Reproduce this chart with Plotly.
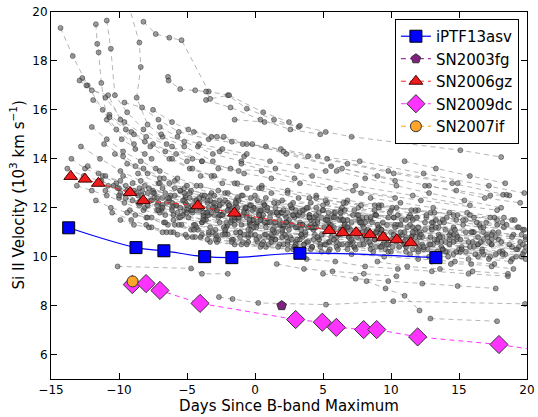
import plotly.graph_objects as go

# ---------------- data ----------------
IPTF_X = [-13.7, -8.75, -6.7, -3.7, -1.7, 3.3, 13.3]
IPTF_Y = [11.18, 10.37, 10.24, 10.0, 9.96, 10.14, 9.96]

SN2003FG_X = [1.96]
SN2003FG_Y = [8.0]

SN2006GZ_X = [-13.55, -12.5, -11.52, -9.19, -8.21, -4.21, -1.52, 5.46, 6.45, 7.43, 8.46, 9.43, 10.42, 11.45]
SN2006GZ_Y = [13.28, 13.17, 13.0, 12.62, 12.29, 12.08, 11.78, 11.07, 10.98, 10.98, 10.9, 10.79, 10.69, 10.57]

SN2009DC_X = [-9.02, -8.01, -6.99, -4.04, 2.99, 4.95, 5.98, 7.99, 8.95, 11.96, 17.94]
SN2009DC_Y = [8.86, 8.9, 8.62, 8.09, 7.43, 7.32, 7.11, 7.02, 7.02, 6.72, 6.41]
SN2009DC_EXT_X = [17.94, 20.0]
SN2009DC_EXT_Y = [6.41, 6.24]

SN2007IF_X = [-9.0]
SN2007IF_Y = [8.99]

# comparison sample (grey)
BG_X = [
    [-14.3, -13.4, -12.3, -11.2, -10.2, -8.9],
    [-11.7, -11.6, -11.5, -11.3, -10.9, -9.8, -8.1],
    [-10.9, -10.6, -10.3, -9.4, -8.2, -6.5, -4.6],
    [-9.3, -8.5, -8.4, -8.7, -7.9, -6.8, -5.2, -3.1],
    [-8.2, -7.3, -6.3, -5.4, -3.4, -2.0, -0.6, 1.4, 3.2],
    [-6.4, -6.35, -5.5, -4.4, -3.6, -3.3, -1.9, 0.6, 2.5],
    [-12.7, -12.4, -11.0, -9.6, -8.0, -6.1, -3.9, -1.2],
    [-12.9, -12.0, -10.8, -9.9, -8.8, -7.6],
    [-1.5, 0.7, 3.3, 5.2, 7.1, 15.1, 18.1],
    [-7.5, -6.1, -4.9, -2.8, -0.6, 1.9, 4.6, 7.7, 12.4, 17.2, 19.8],
    [-9.6, -8.3, -7.1, -5.6, -3.4, -0.9, 2.1, 6.4, 10.3],
    [-4.5, -3.2, -1.7, 0.8, 3.9, 6.8, 10.2, 14.5, 18.7],
    [-11.9, -10.7, -9.1, -7.5, -5.8, -3.9, -1.8, 0.5],
    [-2.3, -0.2, 2.3, 5.6, 9.0, 12.8, 16.9, 19.5],
    [-6.9, -5.2, -3.1, -1.0, 1.5, 4.2, 7.4, 11.6, 15.8],
    [-3.6, -1.8, 0.4, 2.6, 4.8],
    [-13.5, -12.5, -11.2, -9.9],
    [-11.5, -10.2, -8.9, -7.4, -5.8, -4.1, -2.3, -0.4, 1.8, 4.1, 6.5, 9.2],
    [-10.8, -9.3, -7.7, -6.1, -4.6, -3.0, -1.2, 0.9, 3.2, 5.7, 8.3, 11.1, 14.0],
    [-9.7, -8.1, -6.6, -5.1, -3.5, -1.9, 0.2, 2.4, 4.9, 7.6, 10.5, 13.5, 16.8, 19.6],
    [-8.6, -7.2, -5.6, -3.9, -2.1, -0.3, 1.6, 3.7, 6.0, 8.8, 11.9],
    [-12.3, -11.0, -9.5, -7.9, -6.3, -4.6, -2.8, -0.9, 1.1, 3.3, 5.6],
    [-7.8, -6.2, -4.4, -2.6, -0.7, 1.3, 3.5, 5.9, 8.5, 11.4, 14.6, 17.9],
    [-6.9, -5.3, -3.7, -2.0, -0.1, 2.0, 4.4, 6.9, 9.7, 12.8, 16.1, 19.3],
    [-10.3, -8.8, -7.0, -5.2, -3.3, -1.4, 0.7, 3.0, 5.4, 7.9],
    [-5.9, -4.3, -2.7, -1.0, 0.8, 2.8, 5.0, 7.3, 9.9, 12.6, 15.5, 18.5],
    [-9.2, -7.6, -5.9, -4.2, -2.4, -0.5, 1.5, 3.8, 6.2, 8.9],
    [-4.8, -3.1, -1.5, 0.3, 2.2, 4.3, 6.6, 9.1, 11.8, 14.8, 17.7],
    [-11.1, -9.7, -8.2, -6.7, -5.0, -3.2, -1.3, 0.6, 2.7, 5.0, 7.5, 10.2, 13.1],
    [-3.8, -2.1, -0.4, 1.4, 3.4, 5.6, 8.0, 10.6, 13.4, 16.4, 19.4],
    [-7.3, -5.7, -4.0, -2.2, -0.3, 1.7, 3.9, 6.3, 8.8, 11.5],
    [-1.9, -0.1, 1.9, 4.0, 6.2, 8.6, 11.2, 14.0, 17.0, 19.9],
    [-8.3, -6.8, -5.1, -3.4, -1.6, 0.3, 2.3, 4.6, 7.1, 9.7, 12.5, 15.5],
    [-10.0, -8.5, -6.9, -5.3, -3.6, -1.8, 0.1, 2.1, 4.3],
    [0.5, 2.4, 4.5, 6.8, 9.3, 12.0, 14.9, 17.8],
    [-6.0, -4.5, -2.9, -1.1, 0.7, 2.6, 4.7, 7.0, 9.4, 12.1, 15.0, 18.0],
    [-12.8, -11.4, -9.9, -8.4, -6.8, -5.1, -3.3, -1.4],
    [2.5, 4.4, 6.5, 8.7, 11.1, 13.7, 16.4, 19.2],
    [-9.0, -7.5, -5.9, -4.3, -2.6, -0.8, 1.1, 3.1, 5.3, 7.7, 10.3, 13.0, 16.0, 19.0],
    [-4.0, -2.4, -0.6, 1.2, 3.2, 5.3, 7.6, 10.0, 12.6, 15.3, 18.2],
    [-7.0, -5.5, -3.9, -2.3, -0.5, 1.4, 3.4, 5.6, 7.9, 10.4, 13.1],
    [1.0, 3.0, 5.1, 7.3, 9.6, 12.0, 14.6, 17.3, 19.9],
    [-2.8, -1.0, 0.8, 2.8, 4.9, 7.1, 9.5, 12.0, 14.7, 17.6],
    [3.8, 5.9, 8.1, 10.5, 13.0, 15.7, 18.6],
    [5.0, 7.4, 9.8, 12.3, 14.9, 17.7],
    [-2.65, -1.65, 0.24, 5.22, 10.17, 19.85],
    [-10.1, -4.7, -3.9, -2.0],
    [12.9, 17.8],
    [8.2, 9.6, 11.0, 12.1],
    [-13.8, -12.6, -11.4, -10.1, -8.7],
    [-13.1, -12.0, -10.9, -9.6, -8.2, -6.6],
    [-11.7, -10.6, -9.4, -8.0, -6.4, -4.7, -2.9],
    [-10.5, -9.1, -7.6, -6.0, -4.4, -2.7, -0.9, 1.0, 3.0],
    [-8.0, -6.5, -5.0, -3.3, -1.5, 0.4, 2.4],
    [6.0, 8.1, 10.4, 12.8, 15.4, 18.1],
    [8.5, 10.7, 13.1, 15.6, 18.3],
    [10.0, 12.3, 14.8, 17.4, 19.9],
    [-5.5, -3.9, -2.2, -0.4, 1.5, 3.6, 5.8, 8.2, 10.8, 13.6, 16.6, 19.7],
    [-3.0, -1.3, 0.5, 2.5, 4.6, 6.9, 9.3, 11.9, 14.6],
    [-12.0, -10.9, -9.7, -8.4, -7.0],
    [-8.9, -7.7, -6.3, -4.8, -3.2, -1.5, 0.3],
    [-6.1, -4.6, -3.0, -1.3, 0.5, 2.4, 4.5, 6.7, 9.1],
    [-1.0, 2.9, 7.2, 12.2, 17.8],
    [11.0, 13.3, 15.8, 18.4],
    [12.5, 14.8, 17.3, 18.24, 18.5],
    [-7.6, -6.0, -4.3, -2.5, -0.6, 1.4, 3.5, 5.8, 8.3, 11.0, 13.8, 16.8],
    [-2.2, -0.5, 1.3, 3.3, 5.4, 7.7, 10.1, 12.7, 15.5, 18.4],
    [-9.9, -8.4, -6.8, -5.2, -3.5, -1.7, 0.2, 2.2, 4.3, 6.6],
    [-5.0, -3.4, -1.7, 0.1, 2.0, 4.1, 6.4, 8.9, 11.6, 14.4, 17.4],
    [-8.6, -7.1, -5.5, -3.8, -2.0, -0.1, 1.9, 4.0, 6.3],
    [-6.5, -4.9, -3.2, -1.4, 0.4, 2.3, 4.4, 6.6, 9.0, 11.6, 14.3, 17.1, 19.9],
    [0.0, 2.0, 4.1, 6.4, 8.8, 11.4, 14.1, 17.0],
    [4.5, 6.6, 8.9, 11.3, 13.8, 16.5, 19.3],
    [7.0, 9.2, 11.6, 14.1, 16.8, 19.6],
    [-11.3, -10.0, -8.6, -7.1, -5.5, -3.8],
    [-9.4, -7.9, -6.3, -4.7, -3.0, -1.2, 0.7, 2.7],
    [14.0, 16.4, 18.9],
    [9.0, 11.2, 13.6, 16.0, 18.6],
    [1.6, 3.6, 5.7, 8.0, 10.4],
    [-3.4, -1.6, 0.2, 2.1, 4.2],
    [-4.2, -2.6, -0.8, 1.1, 3.1, 5.2],
    [-7.0, -5.7, -4.1, -2.4, -0.6],
    [-2.7, -0.8, 1.2, 3.3, 5.5, 7.8, 10.3],
    [-10.7, -9.5, -8.1, -6.6, -5.0],
    [5.3, 9.8, 14.9],
    # dense core
    [-9.5, -8.4, -7.2, -6.1, -5.0, -3.8, -2.7, -1.5, -0.4, 0.8, 1.9, 3.1],
    [-8.8, -7.9, -6.7, -5.4, -4.3, -3.1, -2.0, -0.8, 0.3, 1.5, 2.7, 3.9, 5.2, 6.4],
    [-7.4, -6.3, -5.2, -4.1, -2.9, -1.8, -0.6, 0.6, 1.7, 2.9, 4.1, 5.4, 6.6, 7.9, 9.1],
    [-6.6, -5.6, -4.5, -3.4, -2.2, -1.1, 0.1, 1.2, 2.4, 3.6, 4.8, 6.0, 7.3, 8.5, 9.8, 11.1],
    [-5.8, -4.7, -3.6, -2.5, -1.3, -0.2, 0.9, 2.1, 3.3, 4.5, 5.7, 7.0, 8.2, 9.5, 10.8, 12.1, 13.4],
    [-4.4, -3.3, -2.2, -1.1, 0.0, 1.2, 2.3, 3.5, 4.7, 6.0, 7.2, 8.5, 9.8, 11.1, 12.4, 13.8, 15.1],
    [-3.5, -2.4, -1.3, -0.2, 0.9, 2.0, 3.2, 4.4, 5.6, 6.8, 8.1, 9.4, 10.7, 12.0, 13.3, 14.7, 16.1, 17.5],
    [-2.6, -1.5, -0.4, 0.7, 1.8, 3.0, 4.2, 5.4, 6.6, 7.9, 9.2, 10.5, 11.8, 13.2, 14.6, 16.0, 17.4, 18.9],
    [-1.4, -0.3, 0.8, 2.0, 3.1, 4.3, 5.5, 6.8, 8.0, 9.3, 10.6, 12.0, 13.4, 14.8, 16.2, 17.7, 19.2],
    [-0.6, 0.5, 1.6, 2.8, 4.0, 5.2, 6.4, 7.7, 9.0, 10.3, 11.6, 13.0, 14.4, 15.9, 17.4, 18.9],
    [0.4, 1.5, 2.7, 3.9, 5.1, 6.3, 7.6, 8.9, 10.2, 11.5, 12.9, 14.3, 15.7, 17.2, 18.7],
    [1.2, 2.4, 3.6, 4.8, 6.1, 7.4, 8.7, 10.0, 11.4, 12.8, 14.2, 15.7, 17.2, 18.8],
    [-10.4, -9.4, -8.3, -7.2, -6.1, -5.0, -3.9, -2.8],
    [-9.9, -8.9, -7.8, -6.8, -5.7, -4.6, -3.5],
    [-8.1, -7.1, -6.0, -4.9, -3.8, -2.6, -1.5, -0.3, 0.8, 2.0],
    [-7.0, -5.9, -4.8, -3.7, -2.6, -1.4, -0.3, 0.9, 2.1, 3.3, 4.5, 5.8],
    [3.5, 4.7, 5.9, 7.2, 8.5, 9.8, 11.1, 12.5, 13.9, 15.3, 16.8, 18.3, 19.8],
    [5.5, 6.8, 8.0, 9.3, 10.7, 12.1, 13.5, 14.9, 16.4, 17.9, 19.5],
    [6.9, 8.2, 9.5, 10.9, 12.3, 13.7, 15.2, 16.7, 18.2, 19.8],
    [8.8, 10.1, 11.5, 12.9, 14.3, 15.8, 17.3, 18.9],
    [-5.2, -4.1, -3.0, -1.9, -0.7, 0.4, 1.6, 2.8, 4.0, 5.3, 6.5, 7.8],
    [-3.9, -2.8, -1.7, -0.5, 0.6, 1.8, 3.0, 4.2, 5.5, 6.8],
    [-2.0, -0.9, 0.2, 1.4, 2.6, 3.8, 5.0, 6.3, 7.6, 8.9, 10.2, 11.6, 13.0],
    [2.2, 3.4, 4.6, 5.8, 7.1, 8.4, 9.7, 11.0, 12.4, 13.8, 15.2, 16.7, 18.2, 19.7],
    [10.5, 11.9, 13.3, 14.8, 16.3, 17.8, 19.4],
    [12.2, 13.6, 15.1, 16.6, 18.1, 19.7],
    [-11.0, -10.0, -9.0, -7.9, -6.8, -5.7],
    [-6.2, -5.1, -4.0, -2.9, -1.7, -0.6, 0.5, 1.7, 2.9, 4.1, 5.4],
    [-1.0, 0.1, 1.3, 2.5, 3.7, 4.9, 6.2, 7.5, 8.8, 10.1, 11.5, 12.9, 14.3, 15.8],
    [4.0, 5.2, 6.5, 7.8, 9.1, 10.4, 11.8, 13.2, 14.6, 16.1, 17.6, 19.1],
    [-4.6, -3.5, -2.4, -1.2, -0.1, 1.1, 2.3, 3.5],
    [13.0, 14.4, 15.9, 17.4, 19.0],
    [-8.5, -7.5, -6.4, -5.3, -4.2, -3.1, -2.0, -0.8, 0.3],
]
BG_Y = [
    [19.35, 18.2, 17.0, 16.0, 15.2, 14.6],
    [19.5, 18.7, 18.35, 17.1, 15.6, 14.8, 14.2],
    [19.65, 18.5, 16.6, 15.9, 15.2, 14.6, 14.0],
    [20.3, 18.75, 17.75, 16.5, 15.4, 14.9, 14.5, 13.9],
    [19.6, 19.1, 18.95, 18.85, 16.75, 16.6, 16.05, 15.6, 15.3],
    [17.35, 17.2, 16.85, 16.8, 16.75, 16.45, 16.6, 15.9, 15.5],
    [17.3, 17.0, 16.5, 15.5, 14.9, 14.5, 13.9, 13.5],
    [17.2, 16.8, 16.6, 15.6, 14.4, 14.0],
    [15.6, 15.5, 15.35, 15.1, 14.9, 14.35, 14.07],
    [16.0, 15.5, 15.2, 14.9, 14.6, 14.4, 14.1, 13.9, 13.4, 12.9, 12.6],
    [16.3, 16.1, 15.6, 15.1, 14.8, 14.6, 14.3, 13.6, 13.1],
    [15.1, 14.9, 14.7, 14.5, 14.1, 13.8, 13.4, 13.0, 12.5],
    [16.4, 15.8, 15.1, 14.6, 14.2, 13.9, 13.6, 13.5],
    [14.9, 14.6, 14.2, 13.7, 13.3, 12.9, 12.4, 12.2],
    [15.0, 14.7, 14.2, 13.9, 13.6, 13.3, 12.9, 12.5, 12.1],
    [16.4, 16.1, 15.6, 15.2, 15.0],
    [14.0, 13.6, 13.3, 13.1],
    [13.4, 13.0, 12.7, 12.4, 12.1, 11.9, 11.8, 11.6, 11.5, 11.3, 11.2, 11.0],
    [12.9, 12.6, 12.3, 12.0, 11.8, 11.7, 11.5, 11.4, 11.2, 11.1, 10.9, 10.8, 10.6],
    [13.3, 12.9, 12.6, 12.4, 12.2, 12.0, 11.9, 11.8, 11.6, 11.5, 11.3, 11.2, 11.0, 10.9],
    [12.2, 11.9, 11.6, 11.4, 11.2, 11.1, 11.0, 10.9, 10.8, 10.7, 10.6],
    [13.7, 13.3, 12.9, 12.6, 12.3, 12.1, 11.9, 11.7, 11.6, 11.4, 11.3],
    [12.8, 12.5, 12.3, 12.1, 12.0, 11.8, 11.7, 11.6, 11.5, 11.3, 11.2, 11.0],
    [12.0, 11.7, 11.5, 11.3, 11.2, 11.0, 10.9, 10.8, 10.7, 10.5, 10.4, 10.3],
    [14.2, 13.7, 13.2, 12.8, 12.5, 12.3, 12.1, 11.9, 11.8, 11.6],
    [13.1, 12.9, 12.7, 12.5, 12.4, 12.2, 12.1, 11.9, 11.8, 11.6, 11.5, 11.3],
    [11.9, 11.6, 11.3, 11.1, 10.9, 10.8, 10.7, 10.6, 10.5, 10.4],
    [12.4, 12.2, 12.0, 11.8, 11.7, 11.5, 11.4, 11.2, 11.1, 10.9, 10.8],
    [14.6, 14.1, 13.6, 13.2, 12.9, 12.6, 12.4, 12.2, 12.0, 11.9, 11.7, 11.6, 11.4],
    [11.6, 11.4, 11.3, 11.2, 11.1, 11.0, 10.9, 10.8, 10.6, 10.5, 10.4],
    [13.6, 13.2, 12.9, 12.6, 12.4, 12.2, 12.0, 11.9, 11.7, 11.6],
    [12.1, 12.0, 11.8, 11.7, 11.5, 11.4, 11.2, 11.1, 10.9, 10.8],
    [12.7, 12.4, 12.2, 12.0, 11.8, 11.7, 11.6, 11.5, 11.4, 11.3, 11.1, 11.0],
    [12.4, 12.1, 11.9, 11.7, 11.5, 11.4, 11.3, 11.2, 11.1],
    [12.9, 12.7, 12.5, 12.3, 12.1, 11.9, 11.7, 11.5],
    [11.5, 11.3, 11.1, 11.0, 10.9, 10.8, 10.7, 10.6, 10.5, 10.4, 10.3, 10.2],
    [14.5, 14.0, 13.5, 13.1, 12.8, 12.5, 12.3, 12.1],
    [11.3, 11.2, 11.0, 10.9, 10.7, 10.6, 10.5, 10.3],
    [13.0, 12.7, 12.5, 12.3, 12.1, 11.9, 11.8, 11.7, 11.6, 11.5, 11.3, 11.2, 11.0, 10.9],
    [13.3, 13.0, 12.8, 12.6, 12.4, 12.2, 12.0, 11.9, 11.7, 11.5, 11.4],
    [11.8, 11.6, 11.4, 11.2, 11.1, 11.0, 10.9, 10.8, 10.7, 10.6, 10.5],
    [10.8, 10.6, 10.5, 10.4, 10.3, 10.2, 10.1, 10.0, 9.9],
    [10.6, 10.5, 10.4, 10.3, 10.2, 10.1, 10.0, 9.9, 9.8, 9.7],
    [9.9, 9.8, 9.6, 9.5, 9.4, 9.3, 9.2],
    [9.3, 9.1, 9.0, 8.9, 8.8, 8.7],
    [8.35, 8.27, 8.11, 8.04, 8.18, 8.07],
    [9.6, 9.52, 9.3, 9.3],
    [7.47, 7.36],
    [9.0, 8.7, 8.4, 7.8],
    [13.6, 13.3, 13.1, 12.8, 12.6],
    [12.9, 12.7, 12.5, 12.2, 11.9, 11.7],
    [12.3, 12.0, 11.8, 11.6, 11.3, 11.1, 10.9],
    [11.8, 11.5, 11.2, 11.0, 10.8, 10.7, 10.6, 10.5, 10.4],
    [11.3, 11.0, 10.8, 10.6, 10.5, 10.4, 10.3],
    [13.5, 13.2, 12.9, 12.6, 12.3, 12.0],
    [12.4, 12.2, 12.0, 11.8, 11.6],
    [11.0, 10.8, 10.7, 10.5, 10.4],
    [12.7, 12.5, 12.3, 12.1, 12.0, 11.9, 11.8, 11.6, 11.5, 11.4, 11.2, 11.1],
    [12.0, 11.8, 11.6, 11.5, 11.4, 11.2, 11.1, 11.0, 10.9],
    [15.3, 14.8, 14.3, 13.9, 13.5],
    [15.0, 14.5, 14.0, 13.6, 13.3, 13.0, 12.8],
    [14.0, 13.6, 13.3, 13.0, 12.8, 12.6, 12.4, 12.2, 12.1],
    [13.8, 13.2, 12.7, 12.3, 11.9],
    [13.9, 13.6, 13.3, 13.0],
    [12.9, 12.7, 12.5, 12.53, 12.53],
    [12.3, 12.1, 11.9, 11.7, 11.6, 11.4, 11.3, 11.2, 11.1, 11.0, 10.8, 10.7],
    [11.0, 10.9, 10.8, 10.7, 10.6, 10.5, 10.4, 10.3, 10.2, 10.1],
    [12.6, 12.3, 12.1, 11.9, 11.7, 11.5, 11.4, 11.3, 11.2, 11.1],
    [11.9, 11.7, 11.6, 11.4, 11.3, 11.2, 11.1, 11.0, 10.9, 10.8, 10.7],
    [13.4, 13.0, 12.7, 12.4, 12.2, 12.0, 11.8, 11.7, 11.6],
    [12.2, 12.0, 11.8, 11.6, 11.5, 11.4, 11.3, 11.2, 11.1, 11.0, 10.9, 10.8, 10.7],
    [12.5, 12.3, 12.2, 12.0, 11.9, 11.7, 11.6, 11.4],
    [12.0, 11.9, 11.7, 11.6, 11.5, 11.3, 11.2],
    [10.5, 10.4, 10.3, 10.2, 10.1, 10.0],
    [13.1, 12.8, 12.5, 12.2, 12.0, 11.8],
    [13.8, 13.4, 13.0, 12.7, 12.5, 12.3, 12.1, 12.0],
    [10.2, 10.0, 9.9],
    [9.8, 9.6, 9.5, 9.4, 9.3],
    [9.7, 9.5, 9.4, 9.3, 9.2],
    [10.9, 10.7, 10.6, 10.5, 10.4],
    [14.5, 14.3, 14.1, 13.9, 13.7, 13.5],
    [15.3, 14.9, 14.6, 14.4, 14.2],
    [13.6, 13.4, 13.2, 13.0, 12.8, 12.6, 12.4],
    [15.7, 15.2, 14.7, 14.3, 13.9],
    [14.0, 13.5, 13.0],
    # dense core
    [12.4, 12.2, 12.1, 11.9, 11.8, 11.7, 11.6, 11.5, 11.4, 11.4, 11.3, 11.2],
    [11.7, 11.6, 11.4, 11.3, 11.2, 11.0, 10.9, 10.9, 10.8, 10.7, 10.7, 10.6, 10.5, 10.5],
    [12.6, 12.4, 12.3, 12.2, 12.0, 11.9, 11.8, 11.7, 11.7, 11.6, 11.5, 11.4, 11.3, 11.3, 11.2],
    [11.4, 11.3, 11.1, 11.0, 10.9, 10.8, 10.7, 10.7, 10.6, 10.5, 10.5, 10.4, 10.4, 10.3, 10.2, 10.2],
    [12.1, 11.9, 11.8, 11.7, 11.6, 11.5, 11.4, 11.3, 11.3, 11.2, 11.1, 11.1, 11.0, 10.9, 10.9, 10.8, 10.7],
    [11.3, 11.2, 11.1, 11.0, 10.9, 10.9, 10.8, 10.8, 10.7, 10.6, 10.6, 10.5, 10.5, 10.4, 10.3, 10.3, 10.2],
    [12.3, 12.2, 12.0, 11.9, 11.9, 11.8, 11.7, 11.6, 11.6, 11.5, 11.4, 11.4, 11.3, 11.2, 11.2, 11.1, 11.0, 11.0],
    [11.7, 11.6, 11.5, 11.4, 11.3, 11.2, 11.2, 11.1, 11.0, 11.0, 10.9, 10.8, 10.8, 10.7, 10.6, 10.6, 10.5, 10.4],
    [11.0, 10.9, 10.9, 10.8, 10.7, 10.7, 10.6, 10.5, 10.5, 10.4, 10.4, 10.3, 10.2, 10.2, 10.1, 10.1, 10.0],
    [12.0, 11.9, 11.8, 11.7, 11.6, 11.5, 11.5, 11.4, 11.3, 11.2, 11.2, 11.1, 11.0, 11.0, 10.9, 10.8],
    [11.5, 11.4, 11.3, 11.2, 11.2, 11.1, 11.0, 11.0, 10.9, 10.8, 10.8, 10.7, 10.6, 10.6, 10.5],
    [10.6, 10.5, 10.5, 10.4, 10.3, 10.3, 10.2, 10.2, 10.1, 10.0, 10.0, 9.9, 9.9, 9.8],
    [12.9, 12.7, 12.5, 12.4, 12.2, 12.1, 12.0, 11.9],
    [11.5, 11.3, 11.2, 11.0, 10.9, 10.8, 10.7],
    [12.0, 11.9, 11.7, 11.6, 11.5, 11.4, 11.3, 11.3, 11.2, 11.1],
    [13.0, 12.8, 12.6, 12.5, 12.3, 12.2, 12.1, 12.0, 11.9, 11.8, 11.7, 11.6],
    [11.9, 11.8, 11.8, 11.7, 11.6, 11.6, 11.5, 11.4, 11.4, 11.3, 11.2, 11.2, 11.1],
    [11.3, 11.2, 11.2, 11.1, 11.0, 11.0, 10.9, 10.8, 10.8, 10.7, 10.6],
    [10.8, 10.7, 10.6, 10.6, 10.5, 10.4, 10.4, 10.3, 10.2, 10.2],
    [12.1, 12.0, 11.9, 11.8, 11.8, 11.7, 11.6, 11.5],
    [12.6, 12.4, 12.2, 12.1, 12.0, 11.9, 11.8, 11.7, 11.6, 11.5, 11.5, 11.4],
    [10.9, 10.8, 10.7, 10.6, 10.6, 10.5, 10.5, 10.4, 10.3, 10.3],
    [12.6, 12.5, 12.3, 12.2, 12.1, 12.0, 11.9, 11.8, 11.7, 11.7, 11.6, 11.5, 11.4],
    [10.9, 10.9, 10.8, 10.7, 10.7, 10.6, 10.5, 10.5, 10.4, 10.3, 10.3, 10.2, 10.1, 10.1],
    [11.7, 11.6, 11.5, 11.5, 11.4, 11.3, 11.2],
    [10.9, 10.8, 10.7, 10.6, 10.6, 10.5],
    [12.7, 12.5, 12.3, 12.1, 12.0, 11.8],
    [11.0, 10.9, 10.8, 10.7, 10.6, 10.5, 10.5, 10.4, 10.4, 10.3, 10.2],
    [11.3, 11.2, 11.1, 11.1, 11.0, 10.9, 10.9, 10.8, 10.7, 10.7, 10.6, 10.5, 10.5, 10.4],
    [12.4, 12.3, 12.2, 12.1, 12.0, 12.0, 11.9, 11.8, 11.7, 11.6, 11.6, 11.5],
    [11.9, 11.8, 11.7, 11.6, 11.5, 11.4, 11.4, 11.3],
    [9.8, 9.7, 9.7, 9.6, 9.5],
    [12.8, 12.6, 12.4, 12.3, 12.1, 12.0, 11.9, 11.8, 11.7],
]

X_TICKS = [-15, -10, -5, 0, 5, 10, 15, 20]
Y_TICKS = [6, 8, 10, 12, 14, 16, 18, 20]

# ---------------- figure ----------------
fig = go.Figure()

for xs, ys in zip(BG_X, BG_Y):
    fig.add_trace(go.Scatter(
        x=xs, y=ys, mode="lines+markers", showlegend=False, hoverinfo="skip",
        line=dict(color="rgba(150,150,150,0.7)", width=1, dash="5px,4px"),
        marker=dict(size=5, color="rgba(95,95,95,0.6)",
                    line=dict(color="rgba(30,30,30,0.65)", width=0.7)),
    ))

fig.add_trace(go.Scatter(
    x=IPTF_X, y=IPTF_Y, name="iPTF13asv", mode="lines+markers",
    line=dict(color="#0000ff", width=1.2, shape="spline"),
    marker=dict(symbol="square", size=12, color="#0000ff", line=dict(color="black", width=1)),
))
fig.add_trace(go.Scatter(
    x=SN2003FG_X, y=SN2003FG_Y, name="SN2003fg", mode="lines+markers",
    line=dict(color="#800080", width=1, dash="5px,4px"),
    marker=dict(symbol="pentagon", size=10, color="#80207f", line=dict(color="#333", width=1)),
))
fig.add_trace(go.Scatter(
    x=SN2006GZ_X, y=SN2006GZ_Y, name="SN2006gz", mode="lines+markers",
    line=dict(color="#ff2020", width=1, dash="5px,4px"),
    marker=dict(symbol="triangle-up", size=12, color="#ee1c1c", line=dict(color="#400", width=1)),
))
fig.add_trace(go.Scatter(
    x=SN2009DC_EXT_X, y=SN2009DC_EXT_Y, mode="lines", showlegend=False, hoverinfo="skip",
    line=dict(color="#ff33ff", width=1, dash="5px,4px"),
))
fig.add_trace(go.Scatter(
    x=SN2009DC_X, y=SN2009DC_Y, name="SN2009dc", mode="lines+markers",
    line=dict(color="#ff33ff", width=1, dash="5px,4px"),
    marker=dict(symbol="diamond", size=14, color="#ff33ff", line=dict(color="#333", width=1)),
))
fig.add_trace(go.Scatter(
    x=SN2007IF_X, y=SN2007IF_Y, name="SN2007if", mode="lines+markers",
    line=dict(color="#ffa500", width=1, dash="5px,4px"),
    marker=dict(symbol="circle", size=11, color="#ffa52a", line=dict(color="#333", width=1)),
))

axis_common = dict(
    showgrid=False, zeroline=False, showline=True, linecolor="black", linewidth=1,
    mirror="ticks", ticks="inside", ticklen=6, tickcolor="black", automargin=False,
    tickfont=dict(family="DejaVu Sans", size=12, color="black"),
)
fig.update_xaxes(range=[-15, 20], tickvals=X_TICKS,
                 ticktext=[("\u2212" + str(-t)) if t < 0 else str(t) for t in X_TICKS],
                 title=dict(text="Days Since B-band Maximum", font=dict(family="DejaVu Sans", size=15, color="black"), standoff=2),
                 **axis_common)
fig.update_yaxes(range=[5, 20], tickvals=Y_TICKS, **axis_common)

fig.add_annotation(
    text="Si II Velocity (10<sup>3</sup> km s<sup>\u22121</sup>)",
    xref="paper", yref="paper", x=-0.0714, y=0.5, xanchor="center", yanchor="middle",
    textangle=-90, showarrow=False,
    font=dict(family="DejaVu Sans", size=15, color="black"),
)

fig.update_layout(
    width=538, height=417,
    margin=dict(l=51, r=11, t=12, b=38),
    plot_bgcolor="white", paper_bgcolor="white",
    legend=dict(x=0.983, y=0.981, xanchor="right", yanchor="top",
                bgcolor="white", bordercolor="black", borderwidth=1,
                font=dict(family="DejaVu Sans", size=15, color="black"),
                tracegroupgap=0),
    font=dict(family="DejaVu Sans"),
)

fig.write_html("out.html")
